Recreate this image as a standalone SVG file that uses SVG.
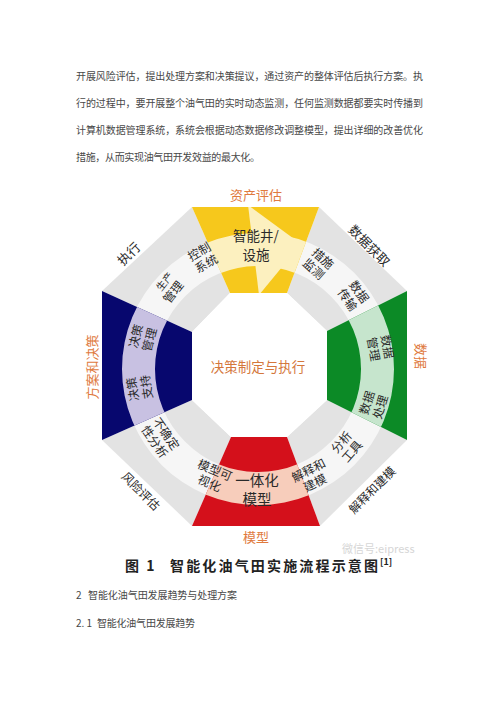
<svg xmlns="http://www.w3.org/2000/svg" width="500" height="708" viewBox="0 0 500 708">
<style>
  .body { font-family: 'Noto Sans CJK SC', 'Liberation Sans', sans-serif; font-size: 10px; fill: #484848; }
  .cap { font-family: 'Noto Sans CJK SC', 'Liberation Sans', sans-serif; font-size: 14px; font-weight: 700; fill: #222; }
  .lbl { font-family: 'Noto Sans CJK SC', sans-serif; font-size: 12px; fill: #2a2a2a; text-anchor: middle; }
  .big { font-family: 'Noto Sans CJK SC', sans-serif; font-size: 13.5px; fill: #2a2a2a; text-anchor: middle; }
  .org { font-family: 'Noto Sans CJK SC', sans-serif; font-size: 13px; fill: #e07a3e; text-anchor: middle; }
  .grey { fill: #e3e3e3; }
  .band { fill-rule: evenodd; }
</style>
<defs>
  <path id="ring" d="M122 369 a136 136 0 1 0 272 0 a136 136 0 1 0 -272 0 Z M155 369 a103 103 0 1 1 206 0 a103 103 0 1 1 -206 0 Z"/>
  <clipPath id="cY"><polygon points="192,207 319,207 287,293 230,293"/></clipPath>
  <clipPath id="cG"><polygon points="407,291 407,440 327,400 327,331"/></clipPath>
  <clipPath id="cR"><polygon points="231,437 287,437 320,526 192,526"/></clipPath>
  <clipPath id="cB"><polygon points="102,291 192,332 192,400 102,440"/></clipPath>
</defs>

<g id="text-top" class="body">
  <text x="76" y="80" textLength="347" lengthAdjust="spacing">开展风险评估，提出处理方案和决策提议，通过资产的整体评估后执行方案。执</text>
  <text x="76" y="107" textLength="347" lengthAdjust="spacing">行的过程中，要开展整个油气田的实时动态监测，任何监测数据都要实时传播到</text>
  <text x="76" y="134" textLength="347" lengthAdjust="spacing">计算机数据管理系统，系统会根据动态数据修改调整模型，提出详细的改善优化</text>
  <text x="76" y="161" textLength="184" lengthAdjust="spacing">措施，从而实现油气田开发效益的最大化。</text>
</g>

<g id="ring-grey">
  <polygon class="grey" points="102,291 192,207 230,293 192,332"/>
  <polygon class="grey" points="319,207 407,291 327,331 287,293"/>
  <polygon class="grey" points="407,440 320,526 287,437 327,400"/>
  <polygon class="grey" points="192,526 102,440 192,400 231,437"/>
  <use href="#ring" class="band" fill="#f6f6f6"/>
</g>

<g id="node-assets">
  <polygon points="192,207 319,207 287,293 230,293" fill="#f6c81c"/>
  <g clip-path="url(#cY)">
    <use href="#ring" class="band" fill="#fcf0bf"/>
    <polygon points="248,205 301,244 259,295" fill="#fcf0bf"/>
  </g>
  <text class="big"><tspan x="256" y="241">智能井/</tspan><tspan x="256" y="260">设施</tspan></text>
  <text class="org" x="256" y="200">资产评估</text>
</g>

<g id="node-data">
  <polygon points="407,291 407,440 327,400 327,331" fill="#0c8a26"/>
  <use href="#ring" class="band" fill="#c6e5cd" clip-path="url(#cG)"/>
  <text class="lbl" transform="translate(380,348) rotate(80)"><tspan x="0" y="-3">数据</tspan><tspan x="0" y="11">管理</tspan></text>
  <text class="lbl" transform="translate(374,405) rotate(-73)"><tspan x="0" y="-3">数据</tspan><tspan x="0" y="11">处理</tspan></text>
  <text class="org" transform="translate(420,356) rotate(90)" y="4.5">数据</text>
</g>

<g id="node-model">
  <polygon points="231,437 287,437 320,526 192,526" fill="#d4101b"/>
  <use href="#ring" class="band" fill="#f7cdbb" clip-path="url(#cR)"/>
  <text class="big" style="font-size:14.5px"><tspan x="257" y="486">一体化</tspan><tspan x="257" y="505">模型</tspan></text>
  <text class="org" x="256" y="542">模型</text>
</g>

<g id="node-decision">
  <polygon points="102,291 192,332 192,400 102,440" fill="#07076e"/>
  <use href="#ring" class="band" fill="#c8c1e2" clip-path="url(#cB)"/>
  <text class="lbl" transform="translate(143,338) rotate(-75)"><tspan x="0" y="-3">决策</tspan><tspan x="0" y="11">管理</tspan></text>
  <text class="lbl" transform="translate(140,388) rotate(-99)"><tspan x="0" y="-3">决策</tspan><tspan x="0" y="11">支持</tspan></text>
  <text class="org" transform="translate(92,367) rotate(-90)" y="4.5">方案和决策</text>
</g>

<g id="node-execute">
  <text class="lbl" transform="translate(129,254) rotate(-45)" y="4.5" style="font-size:13px">执行</text>
  <text class="lbl" transform="translate(203,258) rotate(-30)"><tspan x="0" y="-3">控制</tspan><tspan x="0" y="11">系统</tspan></text>
  <text class="lbl" transform="translate(168,288) rotate(-52)"><tspan x="3" y="-3" style="font-size:10px">生产</tspan><tspan x="0" y="11">管理</tspan></text>
</g>

<g id="node-acquire">
  <text class="lbl" transform="translate(369,246) rotate(45)" y="4.5" style="font-size:13px">数据获取</text>
  <text class="lbl" transform="translate(318,264) rotate(42)"><tspan x="0" y="-3">措施</tspan><tspan x="0" y="11">监测</tspan></text>
  <text class="lbl" transform="translate(353,296) rotate(55)"><tspan x="0" y="-3">数据</tspan><tspan x="0" y="11">传输</tspan></text>
</g>

<g id="node-interpret">
  <text class="lbl" transform="translate(372,490) rotate(-45)" y="4.5">解释和建模</text>
  <text class="lbl" transform="translate(312,477) rotate(-27)"><tspan x="0" y="-3">解释和</tspan><tspan x="0" y="11">建模</tspan></text>
  <text class="lbl" transform="translate(347,447) rotate(-49)"><tspan x="0" y="-3">分析</tspan><tspan x="0" y="11">工具</tspan></text>
</g>

<g id="node-risk">
  <text class="lbl" transform="translate(141,491) rotate(45)" y="4.5">风险评估</text>
  <text class="lbl" transform="translate(160,438) rotate(55)"><tspan x="0" y="-3">不确定</tspan><tspan x="0" y="11">性分析</tspan></text>
  <text class="lbl" transform="translate(212,477) rotate(23)"><tspan x="0" y="-3">模型可</tspan><tspan x="0" y="11">视化</tspan></text>
</g>

<g id="node-center">
  <polygon points="230,293 287,293 327,331 327,400 287,437 231,437 192,400 192,332" fill="#ffffff"/>
  <text class="org" x="258" y="372" style="font-size:13.5px;fill:#d4773c">决策制定与执行</text>
</g>

<g id="connectors"></g>

<g id="caption">
  <text x="342" y="553" style="font-family:'Noto Sans CJK SC','Liberation Sans',sans-serif;font-size:11px;fill:#d6d6d6">微信号:eipress</text>
  <text class="cap" x="125" y="571" letter-spacing="2">图 1</text>
  <text class="cap" x="170" y="571" textLength="208" lengthAdjust="spacing">智能化油气田实施流程示意图</text>
  <text class="cap" x="380" y="565" style="font-size:9px">[1]</text>
</g>

<g id="text-bottom" class="body">
  <text x="76" y="599">2</text>
  <text x="88" y="599" textLength="149" lengthAdjust="spacing">智能化油气田发展趋势与处理方案</text>
  <text x="76" y="627">2. 1</text>
  <text x="97" y="627" textLength="98" lengthAdjust="spacing">智能化油气田发展趋势</text>
</g>
</svg>
